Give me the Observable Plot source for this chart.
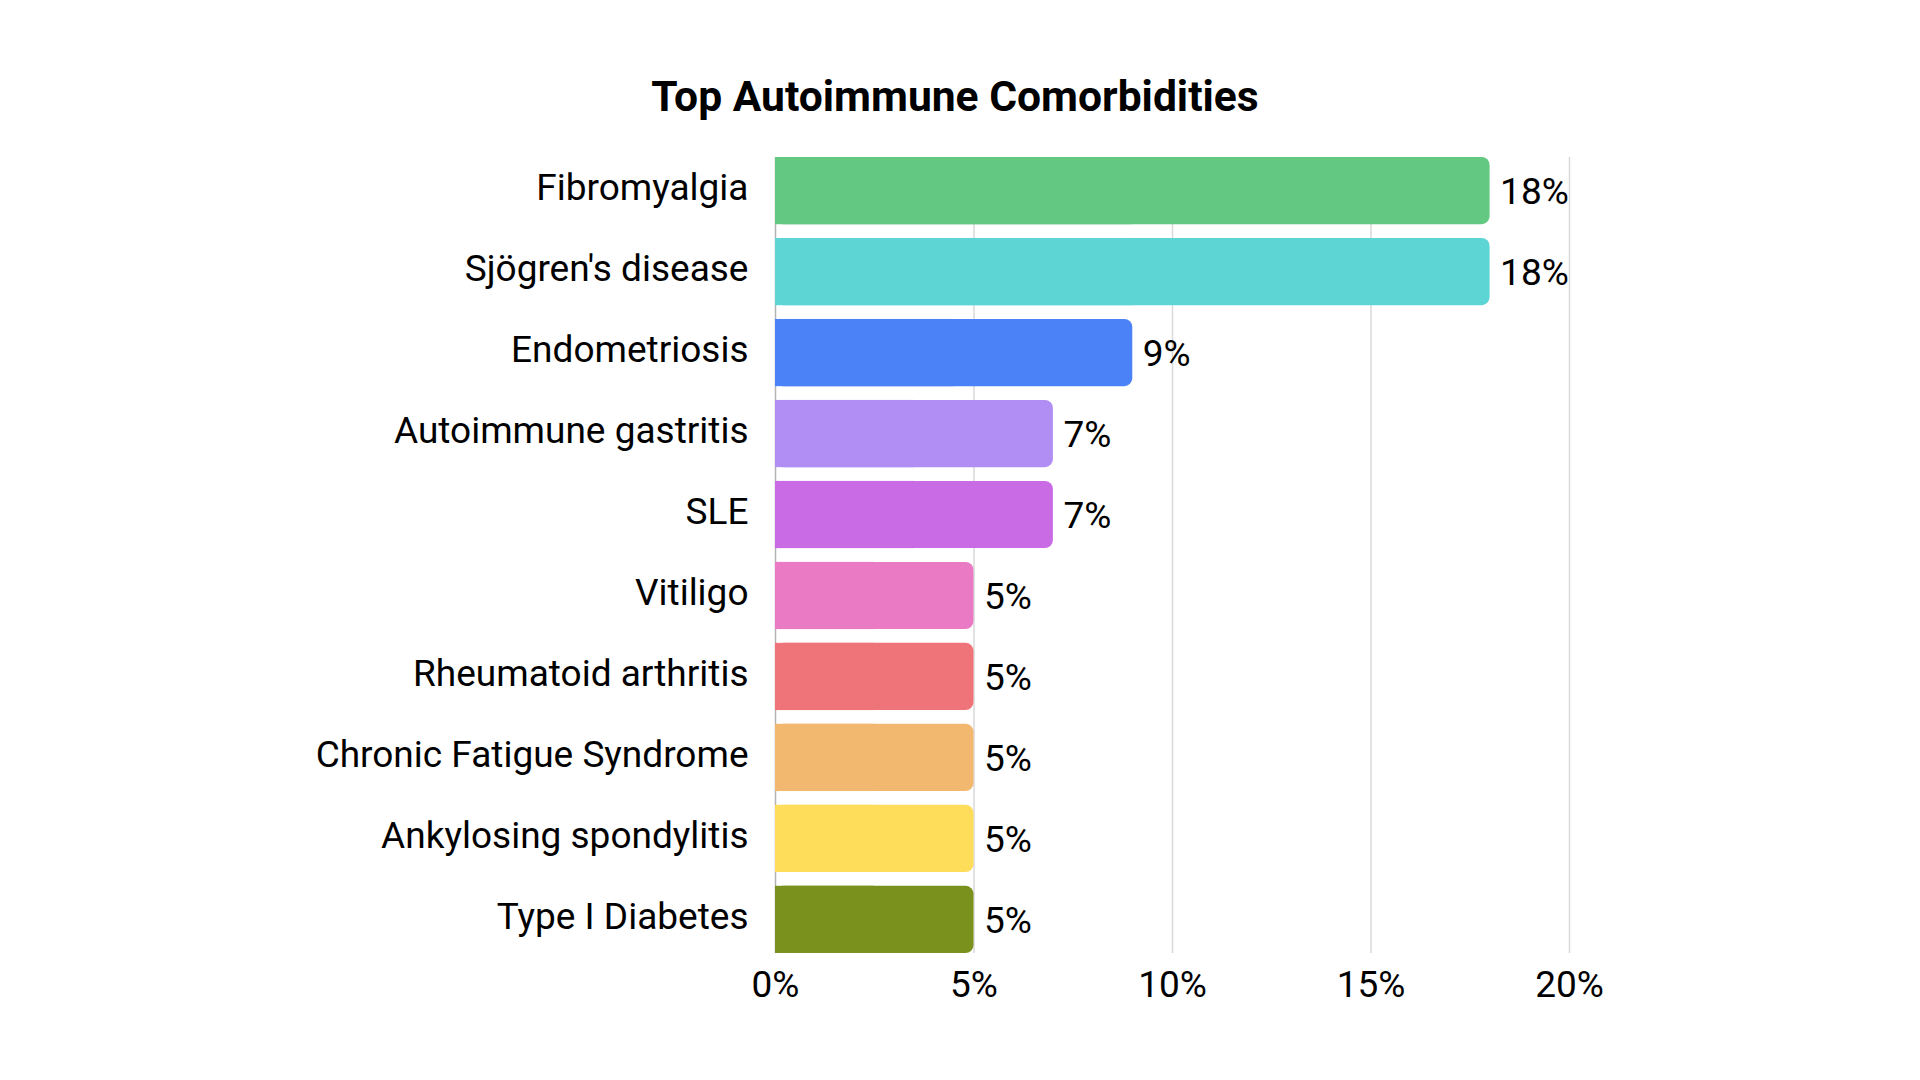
<!DOCTYPE html>
<html>
<head>
<meta charset="utf-8">
<script src="https://cdn.jsdelivr.net/npm/d3@7"></script>
<script src="https://cdn.jsdelivr.net/npm/@observablehq/plot@0.6"></script>
<style>
  html, body { margin: 0; padding: 0; background: #fff; }
  #title {
    box-sizing: border-box; height: 120px; padding-top: 72px; padding-right: 10px; width: 1920px;
    display: flex; align-items: center; justify-content: center;
    font-family: Roboto, sans-serif; font-weight: bold; font-size: 42.6px; line-height: 1; color: #000;
  }
</style>
</head>
<body>
<div id="title">Top Autoimmune Comorbidities</div>
<div id="chart"></div>
<script>
const categories = ["Fibromyalgia", "Sjögren's disease", "Endometriosis", "Autoimmune gastritis", "SLE", "Vitiligo", "Rheumatoid arthritis", "Chronic Fatigue Syndrome", "Ankylosing spondylitis", "Type I Diabetes"];
const values = [18, 18, 9, 7, 7, 5, 5, 5, 5, 5];
const colors = ["#62C882", "#5DD5D4", "#4C82F7", "#B08EF3", "#C96BE5", "#EA7AC3", "#EF7479", "#F3B86F", "#FEDD5A", "#7A921D"];
const xTicks = [0, 5, 10, 15, 20];

const data = categories.map((name, i) => ({name, value: values[i], color: colors[i]}));

const chart = Plot.plot({
  width: 1920,
  height: 960,
  marginLeft: 775,
  marginRight: 351,
  marginTop: 37,
  marginBottom: 127,
  style: {fontFamily: "Roboto, sans-serif", fontSize: "37px", color: "#000", background: "#fff"},
  x: {domain: [0, 20]},
  y: {domain: categories, paddingInner: 0.17, paddingOuter: 0, round: false},
  color: {type: "identity"},
  marks: [
    Plot.ruleX(xTicks.filter(d => d > 0), {stroke: "#d9d9d9", strokeWidth: 1.5}),
    Plot.ruleX([0], {stroke: "#b3b3b3", strokeWidth: 1.5}),
    Plot.barX(data, {y: "name", x1: 0, x2: "value", fill: "color", rx: 8}),
    Plot.barX(data, {y: "name", x1: 0, x2: d => d.value / 2, fill: "color"}),
    Plot.text(data, {y: "name", x: "value", text: d => d.value + "%", dx: 10, dy: 1.5, textAnchor: "start", fill: "#000"}),
    Plot.axisX({ticks: xTicks, tickFormat: d => d + "%", tickSize: 0, tickPadding: 17, label: null}),
    Plot.axisY({tickSize: 0, tickPadding: 27, dy: -2.5, label: null})
  ]
});
document.getElementById("chart").appendChild(chart);
</script>
</body>
</html>
